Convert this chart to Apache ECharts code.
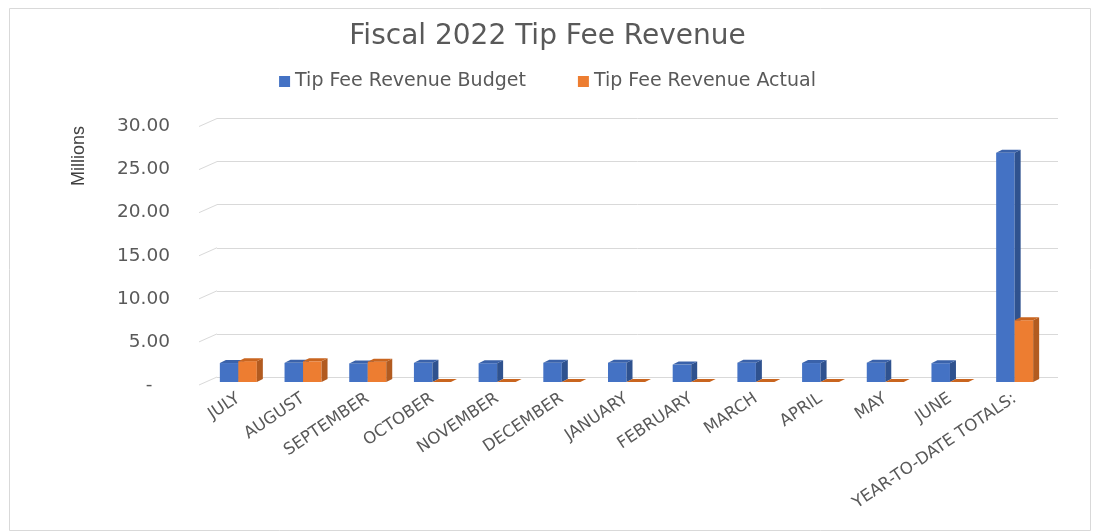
<!DOCTYPE html>
<html>
<head>
<meta charset="utf-8">
<title>Fiscal 2022 Tip Fee Revenue</title>
<script src="https://cdn.jsdelivr.net/npm/echarts@6/dist/echarts.min.js"></script>
<style>
  html, body { margin: 0; padding: 0; background: #fff; }
  #chart { width: 1095px; height: 531px; }
</style>
</head>
<body>
<div id="chart"></div>
<script>
// chart data (millions)
const categories = ['JULY', 'AUGUST', 'SEPTEMBER', 'OCTOBER', 'NOVEMBER', 'DECEMBER', 'JANUARY',
  'FEBRUARY', 'MARCH', 'APRIL', 'MAY', 'JUNE', 'YEAR-TO-DATE TOTALS:']
const budget = [2.20, 2.22, 2.16, 2.22, 2.18, 2.24, 2.24, 2.02, 2.24, 2.20, 2.24, 2.18, 26.6]
const actual = [2.42, 2.40, 2.36, 0, 0, 0, 0, 0, 0, 0, 0, 0, 7.18]
const yTicks = [0, 5, 10, 15, 20, 25, 30]

const chart = echarts.init(document.getElementById('chart'))

// fake 3D depth of the bars
const DX = 6
const DY = -3
const BAR_W = 18.5

// draws one 3D-looking bar, side = -1 left of centre, 0 right of centre
const makeBar = (side, colors) => (params, api) => {
  const i = api.value(0)
  const v = api.value(1)
  const top = api.coord([i, v])
  const base = api.coord([i, 0])
  const x0 = top[0] + side * BAR_W
  const x1 = x0 + BAR_W
  return {
    type: 'group',
    children: [
      {
        type: 'rect',
        shape: { x: x0, y: top[1], width: BAR_W, height: base[1] - top[1] },
        style: { fill: colors[0] }
      },
      {
        type: 'polygon',
        shape: { points: [[x1, top[1]], [x1 + DX, top[1] + DY], [x1 + DX, base[1] + DY], [x1, base[1]]] },
        style: { fill: colors[1] }
      },
      {
        type: 'polygon',
        shape: { points: [[x0, top[1]], [x0 + DX, top[1] + DY], [x1 + DX, top[1] + DY], [x1, top[1]]] },
        style: { fill: colors[2] }
      }
    ]
  }
}

const textColor = '#595959'
const font = 'DejaVu Sans'

const option = {
  backgroundColor: '#fff',
  animation: false,
  title: {
    text: 'Fiscal 2022 Tip Fee Revenue',
    left: 'center',
    top: 18,
    textStyle: { fontSize: 28, fontWeight: 'normal', color: textColor, fontFamily: font }
  },
  legend: {
    top: 67,
    left: 'center',
    itemGap: 52,
    itemWidth: 11,
    itemHeight: 11,
    icon: 'rect',
    textStyle: { fontSize: 19, color: textColor, fontFamily: font },
    data: ['Tip Fee Revenue Budget', 'Tip Fee Revenue Actual']
  },
  graphic: [
    {
      type: 'rect',
      left: 7,
      top: 6,
      shape: { width: 1081, height: 522 },
      style: { fill: 'none', stroke: '#d9d9d9', lineWidth: 1 },
      silent: true
    },
    {
      type: 'text',
      x: 79,
      y: 156,
      rotation: Math.PI / 2,
      style: {
        text: 'Millions',
        fontSize: 18,
        fontFamily: 'Liberation Sans Narrow, Liberation Sans',
        fill: '#404040',
        align: 'center',
        verticalAlign: 'middle'
      }
    }
  ],
  grid: [
    // back wall with gridlines
    { left: 217, right: 37, top: 118.5, bottom: 154 },
    // bar plane
    { left: 206, right: 48, top: 123.5, bottom: 149 },
    // front edge for y labels
    { left: 199, right: 55, top: 126.5, bottom: 146 }
  ],
  xAxis: [
    { gridIndex: 0, type: 'category', data: categories, show: false },
    {
      gridIndex: 1,
      type: 'category',
      data: categories,
      axisLine: { show: false },
      axisTick: { show: false },
      axisLabel: {
        interval: 0,
        rotate: 34,
        margin: 15,
        fontSize: 16.5,
        color: textColor,
        fontFamily: font
      }
    },
    { gridIndex: 2, type: 'category', data: categories, show: false }
  ],
  yAxis: [
    {
      gridIndex: 0,
      type: 'value',
      min: 0,
      max: 30,
      interval: 5,
      axisLabel: { show: false },
      axisLine: { show: false },
      axisTick: { show: false },
      splitLine: { lineStyle: { color: '#d9d9d9', width: 1 } }
    },
    { gridIndex: 1, type: 'value', min: 0, max: 30, interval: 5, show: false },
    {
      gridIndex: 2,
      type: 'value',
      min: 0,
      max: 30,
      interval: 5,
      axisLine: { show: false },
      axisTick: { show: false },
      splitLine: { show: false },
      axisLabel: {
        margin: 29,
        fontSize: 18.5,
        color: textColor,
        fontFamily: font,
        formatter: v => (v === 0 ? '-   ' : v.toFixed(2))
      }
    }
  ],
  series: [
    {
      // diagonal edges of the gridlines
      type: 'custom',
      xAxisIndex: 0,
      yAxisIndex: 0,
      silent: true,
      data: yTicks.map(v => [0, v]),
      renderItem: (params, api) => {
        const y = api.coord([0, api.value(1)])[1]
        const x = params.coordSys.x
        return {
          type: 'line',
          shape: { x1: x - 18, y1: y + 8, x2: x, y2: y },
          style: { stroke: '#d9d9d9', lineWidth: 1 }
        }
      }
    },
    {
      name: 'Tip Fee Revenue Budget',
      type: 'custom',
      xAxisIndex: 1,
      yAxisIndex: 1,
      itemStyle: { color: '#4472C4' },
      data: budget.map((v, i) => [i, v]),
      renderItem: makeBar(-1, ['#4472C4', '#2F528F', '#3A62AA'])
    },
    {
      name: 'Tip Fee Revenue Actual',
      type: 'custom',
      xAxisIndex: 1,
      yAxisIndex: 1,
      itemStyle: { color: '#ED7D31' },
      data: actual.map((v, i) => [i, v]),
      renderItem: makeBar(0, ['#ED7D31', '#B25B20', '#C9651F'])
    }
  ]
}

chart.setOption(option)
</script>
</body>
</html>
